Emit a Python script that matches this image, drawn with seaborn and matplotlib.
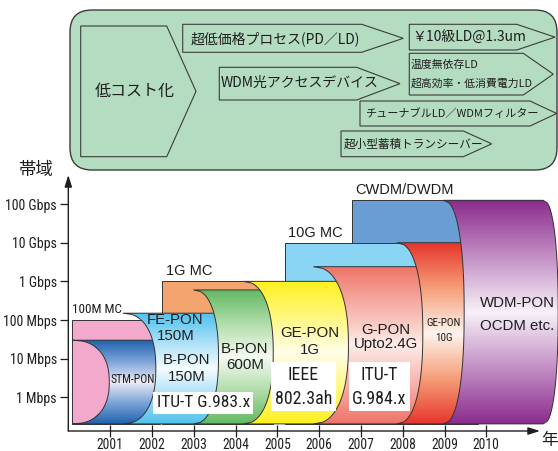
import numpy as np
import matplotlib
matplotlib.use("Agg")
import matplotlib.pyplot as plt
import seaborn as sns
from matplotlib import font_manager as fm
from matplotlib.patches import Polygon, Rectangle, FancyBboxPatch
from matplotlib.colors import LinearSegmentedColormap
from matplotlib.ticker import NullLocator
from matplotlib.transforms import offset_copy

# ---------------------------------------------------------------- data
years = [2001, 2002, 2003, 2004, 2005, 2006, 2007, 2008, 2009, 2010]
bw_ticks = [1e6, 1e7, 1e8, 1e9, 1e10, 1e11]
bw_labels = ["1 Mbps", "10 Mbps", "100 Mbps", "1 Gbps", "10 Gbps", "100 Gbps"]

# media converters / WDM (flat bands)
mc_names = ["100M MC", "1G MC", "10G MC", "CWDM/DWDM"]
mc_start = [2000.08, 2002.24, 2005.18, 2006.78]
mc_end = [2002.2, 2004.9, 2008.6, 2009.8]
mc_top = [1e8, 1e9, 1e10, 1.25e11]

# PON generations (cylinder slices)
pon_names = ["STM-PON", "FE-PON\n150M", "B-PON\n600M", "GE-PON\n1G",
             "G-PON\nUpto2.4G", "GE-PON\n10G", "WDM-PON\nOCDM etc."]
pon_start = [2000.10, 2001.30, 2002.99, 2004.18, 2005.86, 2007.86, 2008.97]
pon_top = [3e7, 1.5e8, 6e8, 1e9, 2.4e9, 1e10, 1.25e11]
pon_last_end = 2011.36

floor_bps = 2.05e5

sub_label = "B-PON\n150M"
standards = ["ITU-T G.983.x", "IEEE\n802.3ah", "ITU-T\nG.984.x"]

goal_text = "低コスト化"
roadmap_items = ["超低価格プロセス(PD／LD)", "WDM光アクセスデバイス", "￥10級LD@1.3um",
                 "温度無依存LD\n超高効率・低消費電力LD", "チューナブルLD／WDMフィルター",
                 "超小型蓄積トランシーバー"]

# ---------------------------------------------------------------- style
sns.set_theme(style="ticks")
entries = fm.fontManager.ttflist
installed = {f.name for f in entries}
REGULAR = ["Liberation Sans", "DejaVu Sans"]
JP = ["Noto Sans CJK JP", "DejaVu Sans"]
plt.rcParams["font.family"] = REGULAR

# pick a condensed sans face for the tight labels
if "Liberation Sans Narrow" in installed:
    NARROW, NARROW_STRETCH, NARROW_SCALE = ["Liberation Sans Narrow", "DejaVu Sans"], "normal", 1.0
elif "Roboto Condensed" in installed:
    NARROW, NARROW_STRETCH, NARROW_SCALE = ["Roboto Condensed", "DejaVu Sans"], "normal", 1.0
elif any(f.name == "DejaVu Sans" and "condensed" in str(f.stretch) for f in entries):
    NARROW, NARROW_STRETCH, NARROW_SCALE = ["DejaVu Sans"], "condensed", 0.9
else:
    NARROW, NARROW_STRETCH, NARROW_SCALE = ["DejaVu Sans"], "normal", 0.82

INK = "#1e1e1e"
EDGE = "#333333"
BOX_GREEN = "#b4dcc1"


def narrow(size):
    return dict(family=NARROW, fontstretch=NARROW_STRETCH, fontsize=size * NARROW_SCALE)


W, H = 558, 451
fig = plt.figure(figsize=(W / 100, H / 100), dpi=100)
fig.patch.set_facecolor("white")

ax = fig.add_axes([68.3 / W, 1 - 431 / H, 1 - 68.3 / W, (431 - 175) / H])
ax.set_zorder(2)
ax.patch.set_alpha(0)
ax.set_yscale("log")
XLIM = (1999.995, 2011.716)
YLIM = (10 ** 5.128, 10 ** 11.752)
ax.set_xlim(*XLIM)
ax.set_ylim(*YLIM)

# ---------------------------------------------------------------- flat bands
mc_colors = ["#f2a9cc", "#f4a46e", "#89d5f3", "#6a9dd3"]
n_mc = len(mc_names)
for i in range(n_mc):
    ax.add_patch(Rectangle((mc_start[i], floor_bps), mc_end[i] - mc_start[i],
                           mc_top[i] - floor_bps, facecolor=mc_colors[i],
                           edgecolor=EDGE, lw=0.7, zorder=1 + 0.1 * (n_mc - i)))

mc_label_pos = [(2000.086, 10 ** 8.262), (2002.326, 10 ** 9.26),
                (2005.26, 10 ** 10.26), (2006.857, 10 ** 11.365)]
mc_label_font = [narrow(9.5), dict(family=REGULAR, fontsize=10.5),
                 dict(family=REGULAR, fontsize=10.5), dict(family=REGULAR, fontsize=10.5)]
for name, (x, y), fnt in zip(mc_names, mc_label_pos, mc_label_font):
    ax.text(x, y, name, ha="left", va="center", color=INK, zorder=40, **fnt)

# ---------------------------------------------------------------- PON slices
pon_edge = ["#1f62ae", "#4fc2ee", "#63b863", "#fff01e", "#ee7467", "#e5352b", "#8a2b8c"]
pon_via = ["#7aa3d6", "#a6def6", "#b0dcaa", "#fff780", "#f6b0a8", "#f59d78", "#c28ec4"]
pon_mid = ["#eceaf6", "#f3fbfe", "#f4faf1", "#fffde8", "#fdebe7", "#fdf3ec", "#f7f0f8"]
pon_rx = [0.876, 0.79, 0.6, 0.72, 0.84, 0.62, 0.5]
EXP = 2.3


def slice_vertices(x0, x1, top, bottom, rxl, rxr, n=90):
    lt, lb = np.log10(top), np.log10(bottom)
    yc, ry = (lt + lb) / 2, (lt - lb) / 2
    t = np.linspace(1, -1, n)
    f = (1 - np.abs(t) ** EXP) ** (1 / EXP)
    right = np.column_stack([x1 + rxr * f, 10 ** (yc + ry * t)])
    left = np.column_stack([x0 + rxl * f[::-1], 10 ** (yc + ry * t[::-1])])
    return np.vstack([right, left]), yc, ry


n_pon = len(pon_names)
for i in range(n_pon):
    x0 = pon_start[i]
    if i < n_pon - 1:
        x1 = pon_start[i + 1] + pon_rx[i + 1]
        rxr = 0.2
    else:
        x1 = pon_last_end
        rxr = 0.36
    verts, yc, ry = slice_vertices(x0, x1, pon_top[i], floor_bps, pon_rx[i], rxr)
    z = 5 + 2 * i
    cmap = LinearSegmentedColormap.from_list(
        f"pon{i}", [(0, pon_mid[i]), (0.5, pon_via[i]), (1, pon_edge[i])])
    ly = np.linspace(np.log10(floor_bps), np.log10(pon_top[i]), 161)
    tc = np.abs(((ly[:-1] + ly[1:]) / 2 - yc) / ry)
    mesh = ax.pcolormesh(np.array([x0 - 0.05, x1 + rxr + 0.05]), 10 ** ly,
                         tc[:, None], cmap=cmap, vmin=0, vmax=1,
                         shading="flat", zorder=z)
    outline = Polygon(verts, closed=True, facecolor="none", edgecolor=EDGE,
                      lw=0.7, zorder=z + 0.5)
    ax.add_patch(outline)
    mesh.set_clip_path(outline)


def stacked_text(x, y, text, step_px, **kw):
    lines = text.split("\n")
    n = len(lines)
    for k, line in enumerate(lines):
        dy = ((n - 1) / 2 - k) * step_px * 72 / 100
        tr = offset_copy(ax.transData, fig=fig, x=0, y=dy, units="points")
        ax.text(x, y, line, transform=tr, ha="center", va="center",
                color=INK, zorder=40, **kw)


pon_label_pos = [(2001.543, 10 ** 6.448), (2002.558, 10 ** 7.785), (2004.224, 10 ** 7.037),
                 (2005.768, 10 ** 7.439), (2007.599, 10 ** 7.56), (2008.987, 10 ** 7.72),
                 (2010.746, 10 ** 8.142)]
pon_label_step = [0, 15.7, 15.7, 16.7, 14.0, 15.0, 22.4]
for i in range(n_pon):
    if i == 0:
        fnt = narrow(8.4)
    elif i == 5:
        fnt = narrow(8.0)
    else:
        fnt = dict(family=REGULAR, fontsize=10.8)
    x, y = pon_label_pos[i]
    stacked_text(x, y, pon_names[i], pon_label_step[i], **fnt)

stacked_text(2002.829, 10 ** 6.750, sub_label, 16.7, family=REGULAR, fontsize=10.8)

standard_pos = [(2003.226, 10 ** 5.860), (2005.619, 10 ** 6.274), (2007.443, 10 ** 6.274)]
standard_size = [12.5, 12.9, 12.9]
for s, (x, y), sz in zip(standards, standard_pos, standard_size):
    ax.text(x, y, s, ha="center", va="center", multialignment="center",
            linespacing=1.4, color=INK, zorder=45,
            bbox=dict(boxstyle="square,pad=0.2", facecolor="white", edgecolor="none"),
            **narrow(sz))

# ---------------------------------------------------------------- axes
ax.set_xticks(years)
ax.set_xticklabels([str(y) for y in years])
ax.set_yticks(bw_ticks)
ax.set_yticklabels(bw_labels)
ax.yaxis.set_minor_locator(NullLocator())
ax.xaxis.set_minor_locator(NullLocator())
ax.tick_params(axis="x", direction="inout", length=8, width=0.9, color=INK, pad=1.2,
               labelcolor=INK)
ax.tick_params(axis="y", direction="out", length=5.5, width=0.9, color=INK, pad=2.8,
               labelcolor=INK)
fx = narrow(9.8)
for lbl in ax.get_xticklabels():
    lbl.set_fontfamily(fx["family"])
    lbl.set_fontstretch(fx["fontstretch"])
    lbl.set_fontsize(fx["fontsize"])
fy = narrow(10.0)
for lbl in ax.get_yticklabels():
    lbl.set_fontfamily(fy["family"])
    lbl.set_fontstretch(fy["fontstretch"])
    lbl.set_fontsize(fy["fontsize"])
sns.despine(ax=ax, left=True, bottom=True)
ax.grid(False)

arrow_kw = dict(arrowstyle="-|>,head_length=0.7,head_width=0.22", color=INK, lw=1.0,
                shrinkA=0, shrinkB=0, mutation_scale=10)
a1 = ax.annotate("", xy=(2011.285, YLIM[0]), xytext=(XLIM[0], YLIM[0]),
                 arrowprops=arrow_kw, annotation_clip=False, zorder=50)
a2 = ax.annotate("", xy=(XLIM[0], YLIM[1]), xytext=(XLIM[0], YLIM[0]),
                 arrowprops=arrow_kw, annotation_clip=False, zorder=50)
for a in (a1, a2):
    a.arrow_patch.set_clip_on(False)
ax.set_xlim(*XLIM)
ax.set_ylim(*YLIM)

# ---------------------------------------------------------------- roadmap panel (pixel space)
deco = fig.add_axes([0, 0, 1, 1])
deco.set_zorder(1)
deco.set_xlim(0, W)
deco.set_ylim(H, 0)
deco.axis("off")

deco.add_patch(FancyBboxPatch((70, 10), 487, 160, boxstyle="round,pad=0,rounding_size=22",
                              facecolor=BOX_GREEN, edgecolor="#3c3c3c", lw=1.0))


def pentagon(left, top, bottom, body_right, tip):
    mid = (top + bottom) / 2
    return Polygon([(left, top), (body_right, top), (tip, mid), (body_right, bottom),
                    (left, bottom)], closed=True, facecolor=BOX_GREEN,
                   edgecolor="#3c3c3c", lw=0.8)


deco.add_patch(pentagon(80.7, 26, 156.7, 166.7, 196))
deco.text(135, 91, goal_text, ha="center", va="center", family=JP, fontsize=11.5, color=INK)

item_shapes = [(182.7, 24.3, 52.3, 361.7, 403.3), (219.3, 67.3, 100, 356.7, 400),
               (409.3, 24.3, 50, 516.7, 555), (409.3, 53.3, 95, 523.3, 553.3),
               (360, 101, 126, 530, 556.7), (341, 131, 156.7, 463.3, 491.7)]
item_text_x = [190.7, 221, 412.7, 410.7, 365, 343.3]
item_text_y = [[38.5], [83.3], [38], [65, 83.3], [113.7], [144.3]]
item_size = [10, 10, 10, 7.8, 8, 8.4]
for shape, item, tx, tys, sz in zip(item_shapes, roadmap_items, item_text_x,
                                    item_text_y, item_size):
    deco.add_patch(pentagon(*shape))
    for line, ty in zip(item.split("\n"), tys):
        deco.text(tx, ty, line, ha="left", va="center", family=JP, fontsize=sz, color=INK)

deco.text(35.8, 170, "帯域", ha="center", va="center", family=JP, fontsize=12.5, color=INK)
deco.text(541, 449.5, "年", ha="left", va="bottom", family=JP, fontsize=12, color=INK)

fig.savefig("out.png", dpi=100, facecolor="white")
